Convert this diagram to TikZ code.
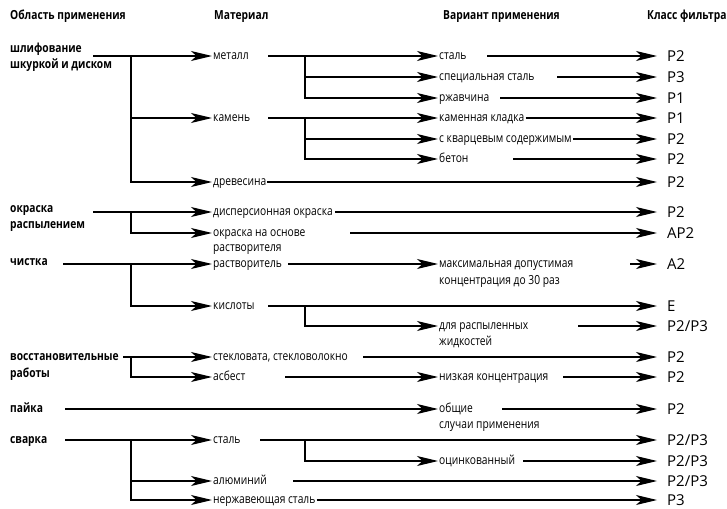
\documentclass[tikz,border=0pt]{standalone}
\usepackage{fontspec}
\setmainfont{Open Sans}
\newfontfamily\cond[FakeStretch=0.82]{Open Sans}
\usetikzlibrary{arrows.meta,positioning}

\tikzset{
    ln/.style={line width=1.1pt},
    arr/.style={ln, -{Stealth[length=21pt,width=10pt,inset=5.5pt]}},
    head/.style={font=\cond\bfseries\fontsize{12.5}{15}\selectfont, anchor=west,
        inner sep=0pt, text height=6.7pt, text depth=0pt},
    item/.style={font=\cond\fontsize{12.5}{15}\selectfont, anchor=west,
        inner xsep=1pt, inner ysep=0pt, text height=6.7pt, text depth=0pt},
    cls/.style={font=\fontsize{15}{18}\selectfont, anchor=west,
        inner xsep=10pt, inner ysep=0pt, text height=10.7pt, text depth=0pt},
}

\begin{document}
\begin{tikzpicture}[x=1pt, y=-1pt]
    \useasboundingbox (0,0) rectangle (727,508);

    % заголовки
    \node[head] (hArea) at (10,16) {Область применения};
    \node[head] (hMat) at (214,16) {Материал};
    \node[head] (hVar) at (443,16) {Вариант применения};
    \node[head] (hCls) at (647,16) {Класс фильтра};

    % область применения
    \node[head] (grind) at (10,49) {шлифование};
    \node[head, below=16pt of grind.base west, anchor=base west] {шкуркой и диском};
    \node[head] (spray) at (10,209) {окраска};
    \node[head, below=16pt of spray.base west, anchor=base west] {распылением};
    \node[head] (clean) at (10,262) {чистка};
    \node[head] (restore) at (10,357) {восстановительные};
    \node[head, below=17pt of restore.base west, anchor=base west] {работы};
    \node[head] (solder) at (10,409) {пайка};
    \node[head] (weld) at (10,440) {сварка};

    % материал
    \node[item] (metal) at (212,56) {металл};
    \node[item] (stone) at (212,118) {камень};
    \node[item] (wood) at (212,182) {древесина};
    \node[item] (disp) at (212,212) {дисперсионная окраска};
    \node[item] (solvbase) at (212,233) {окраска на основе};
    \node[item, below=15.5pt of solvbase.base west, anchor=base west] {растворителя};
    \node[item] (solvent) at (212,264) {растворитель};
    \node[item] (acids) at (212,306) {кислоты};
    \node[item] (glass) at (212,357) {стекловата, стекловолокно};
    \node[item] (asbestos) at (212,377) {асбест};
    \node[item] (wsteel) at (212,440) {сталь};
    \node[item] (alu) at (212,481) {алюминий};
    \node[item] (inox) at (212,500) {нержавеющая сталь};

    % вариант применения
    \node[item] (vsteel) at (438,56) {сталь};
    \node[item] (special) at (438,77) {специальная сталь};
    \node[item] (rust) at (438,98) {ржавчина};
    \node[item] (masonry) at (438,118) {каменная кладка};
    \node[item] (quartz) at (438,139) {с кварцевым содержимым};
    \node[item] (concrete) at (438,159) {бетон};
    \node[item] (maxconc) at (438,264) {максимальная допустимая};
    \node[item, below=17pt of maxconc.base west, anchor=base west] {концентрация до 30 раз};
    \node[item] (sprayliq) at (438,326) {для распыленных};
    \node[item, below=16.5pt of sprayliq.base west, anchor=base west] {жидкостей};
    \node[item] (lowconc) at (438,377) {низкая концентрация};
    \node[item] (general) at (438,409) {общие};
    \node[item, below=16.5pt of general.base west, anchor=base west] {случаи применения};
    \node[item] (galv) at (438,461) {оцинкованный};

    % класс фильтра
    \node[cls] (c1) at (657,56) {P2};
    \node[cls] (c2) at (657,77) {P3};
    \node[cls] (c3) at (657,98) {P1};
    \node[cls] (c4) at (657,118) {P1};
    \node[cls] (c5) at (657,139) {P2};
    \node[cls] (c6) at (657,159) {P2};
    \node[cls] (c7) at (657,182) {P2};
    \node[cls] (c8) at (657,212) {P2};
    \node[cls] (c9) at (657,233) {AP2};
    \node[cls] (c10) at (657,264) {A2};
    \node[cls] (c11) at (657,306) {E};
    \node[cls] (c12) at (657,326) {P2/P3};
    \node[cls] (c13) at (657,357) {P2};
    \node[cls] (c14) at (657,377) {P2};
    \node[cls] (c15) at (657,409) {P2};
    \node[cls] (c16) at (657,440) {P2/P3};
    \node[cls] (c17) at (657,461) {P2/P3};
    \node[cls] (c18) at (657,481) {P2/P3};
    \node[cls] (c19) at (657,500) {P3};

    % шлифование
    \coordinate (grind-o) at (93,56);
    \coordinate (grind-j) at (131,56);
    \draw[arr] (grind-o) -- (metal);
    \draw[arr] (grind-j) |- (stone);
    \draw[arr] (grind-j) |- (wood);

    \coordinate (metal-o) at (268,56);
    \coordinate (metal-j) at (305,56);
    \draw[arr] (metal-o) -- (vsteel);
    \draw[arr] (metal-j) |- (special);
    \draw[arr] (metal-j) |- (rust);

    \coordinate (stone-o) at (268,118);
    \coordinate (stone-j) at (305,118);
    \draw[arr] (stone-o) -- (masonry);
    \draw[arr] (stone-j) |- (quartz);
    \draw[arr] (stone-j) |- (concrete);

    \coordinate (wood-o) at (267,182);
    \draw[arr] (wood-o) -- (c7);

    \coordinate (vsteel-o) at (487,56);
    \coordinate (special-o) at (557,77);
    \coordinate (rust-o) at (500,98);
    \coordinate (concrete-o) at (513,159);
    \draw[arr] (vsteel-o) -- (c1);
    \draw[arr] (special-o) -- (c2);
    \draw[arr] (rust-o) -- (c3);
    \draw[arr] (masonry) -- (c4);
    \draw[arr] (quartz) -- (c5);
    \draw[arr] (concrete-o) -- (c6);

    % окраска распылением
    \coordinate (spray-o) at (93,212);
    \coordinate (spray-j) at (131,212);
    \draw[arr] (spray-o) -- (disp);
    \draw[arr] (spray-j) |- (solvbase);
    \coordinate (disp-o) at (335,212);
    \coordinate (solvbase-o) at (350,233);
    \draw[arr] (disp-o) -- (c8);
    \draw[arr] (solvbase-o) -- (c9);

    % чистка
    \coordinate (clean-o) at (63,264);
    \coordinate (clean-j) at (131,264);
    \draw[arr] (clean-o) -- (solvent);
    \draw[arr] (clean-j) |- (acids);
    \coordinate (solvent-o) at (288,264);
    \draw[arr] (solvent-o) -- (maxconc);
    \coordinate (maxconc-o) at (630,264);
    \draw[arr] (maxconc-o) -- (c10);

    \coordinate (acids-o) at (268,306);
    \coordinate (acids-j) at (305,306);
    \draw[arr] (acids-o) -- (c11);
    \draw[arr] (acids-j) |- (sprayliq);
    \coordinate (sprayliq-o) at (578,326);
    \draw[arr] (sprayliq-o) -- (c12);

    % восстановительные работы
    \coordinate (restore-o) at (123,357);
    \coordinate (restore-j) at (131,357);
    \draw[arr] (restore-o) -- (glass);
    \draw[arr] (restore-j) |- (asbestos);
    \coordinate (glass-o) at (363,357);
    \draw[arr] (glass-o) -- (c13);
    \coordinate (asbestos-o) at (285,377);
    \draw[arr] (asbestos-o) -- (lowconc);
    \coordinate (lowconc-o) at (563,377);
    \draw[arr] (lowconc-o) -- (c14);

    % пайка
    \coordinate (solder-o) at (65,409);
    \draw[arr] (solder-o) -- (general);
    \coordinate (general-o) at (502,409);
    \draw[arr] (general-o) -- (c15);

    % сварка
    \coordinate (weld-o) at (65,440);
    \coordinate (weld-j) at (131,440);
    \draw[arr] (weld-o) -- (wsteel);
    \draw[arr] (weld-j) |- (alu);
    \draw[arr] (weld-j) |- (inox);

    \coordinate (wsteel-o) at (260,440);
    \coordinate (wsteel-j) at (305,440);
    \draw[arr] (wsteel-o) -- (c16);
    \draw[arr] (wsteel-j) |- (galv);
    \coordinate (galv-o) at (523,461);
    \draw[arr] (galv-o) -- (c17);

    \coordinate (alu-o) at (293,481);
    \draw[arr] (alu-o) -- (c18);
    \draw[arr] (inox) -- (c19);
\end{tikzpicture}
\end{document}
